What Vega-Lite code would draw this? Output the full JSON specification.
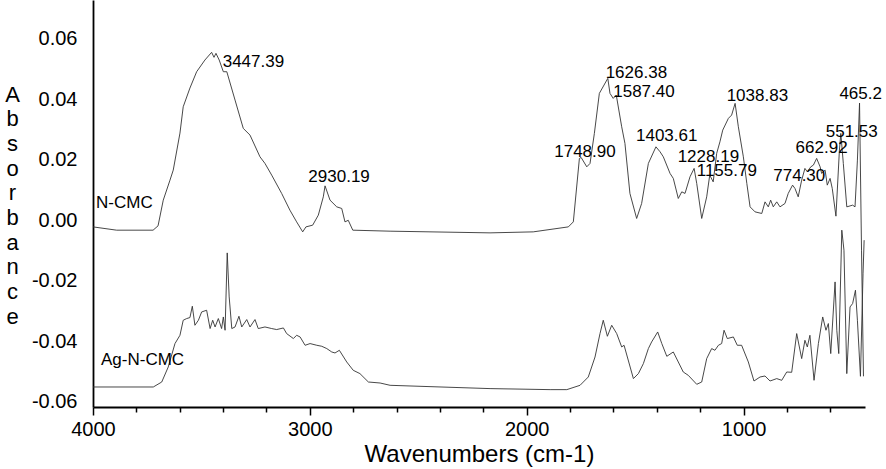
{
  "$schema": "https://vega.github.io/schema/vega-lite/v6.json",
  "width": 772,
  "height": 407,
  "autosize": {"type": "none"},
  "padding": {"left": 93, "right": 21, "top": 0, "bottom": 62},
  "background": "white",
  "config": {
    "view": {"stroke": null},
    "font": "Liberation Sans"
  },
  "datasets": {
    "spectra": [
      {"s":"N","wn":4000,"a":-0.00219},{"s":"N","wn":3891,"a":-0.00328},{"s":"N","wn":3723,"a":-0.00328},{"s":"N","wn":3700,"a":-0.00185},
      {"s":"N","wn":3676,"a":0.00666},{"s":"N","wn":3645,"a":0.01328},{"s":"N","wn":3630,"a":0.0166},{"s":"N","wn":3599,"a":0.02885},
      {"s":"N","wn":3584,"a":0.03756},{"s":"N","wn":3553,"a":0.04376},{"s":"N","wn":3522,"a":0.04916},{"s":"N","wn":3484,"a":0.05303},
      {"s":"N","wn":3453,"a":0.05558},{"s":"N","wn":3442,"a":0.05393},{"s":"N","wn":3433,"a":0.05525},{"s":"N","wn":3418,"a":0.05303},
      {"s":"N","wn":3399,"a":0.04916},{"s":"N","wn":3383,"a":0.04916},{"s":"N","wn":3345,"a":0.03978},{"s":"N","wn":3307,"a":0.03041},
      {"s":"N","wn":3276,"a":0.02819},{"s":"N","wn":3230,"a":0.021},{"s":"N","wn":3207,"a":0.01881},{"s":"N","wn":3176,"a":0.01494},
      {"s":"N","wn":3130,"a":0.00888},{"s":"N","wn":3092,"a":0.00335},{"s":"N","wn":3061,"a":-0.00053},{"s":"N","wn":3033,"a":-0.00384},
      {"s":"N","wn":3018,"a":-0.00219},{"s":"N","wn":2987,"a":-0.00162},{"s":"N","wn":2961,"a":0.00169},{"s":"N","wn":2938,"a":0.00775},
      {"s":"N","wn":2930,"a":0.01139},{"s":"N","wn":2907,"a":0.00666},{"s":"N","wn":2876,"a":0.00444},{"s":"N","wn":2853,"a":0.00391},
      {"s":"N","wn":2838,"a":-0.00053},{"s":"N","wn":2823,"a":0.0},{"s":"N","wn":2802,"a":-0.00328},{"s":"N","wn":2630,"a":-0.00361},
      {"s":"N","wn":2169,"a":-0.00417},{"s":"N","wn":1970,"a":-0.00384},{"s":"N","wn":1808,"a":-0.00219},{"s":"N","wn":1785,"a":-0.00053},
      {"s":"N","wn":1757,"a":0.02047},{"s":"N","wn":1749,"a":0.0208},{"s":"N","wn":1723,"a":0.01769},{"s":"N","wn":1708,"a":0.01881},
      {"s":"N","wn":1688,"a":0.02875},{"s":"N","wn":1665,"a":0.042},{"s":"N","wn":1626,"a":0.04697},{"s":"N","wn":1616,"a":0.042},
      {"s":"N","wn":1601,"a":0.04034},{"s":"N","wn":1587,"a":0.04144},{"s":"N","wn":1562,"a":0.03094},{"s":"N","wn":1547,"a":0.02544},
      {"s":"N","wn":1524,"a":0.00888},{"s":"N","wn":1493,"a":0.0006},{"s":"N","wn":1470,"a":0.00556},{"s":"N","wn":1439,"a":0.01881},
      {"s":"N","wn":1404,"a":0.02431},{"s":"N","wn":1385,"a":0.02266},{"s":"N","wn":1370,"a":0.021},{"s":"N","wn":1339,"a":0.0155},
      {"s":"N","wn":1324,"a":0.01385},{"s":"N","wn":1301,"a":0.00722},{"s":"N","wn":1285,"a":0.00941},{"s":"N","wn":1270,"a":0.00888},
      {"s":"N","wn":1247,"a":0.01438},{"s":"N","wn":1228,"a":0.01716},{"s":"N","wn":1216,"a":0.01219},{"s":"N","wn":1193,"a":0.0006},
      {"s":"N","wn":1170,"a":0.00775},{"s":"N","wn":1156,"a":0.01494},{"s":"N","wn":1140,"a":0.01272},{"s":"N","wn":1124,"a":0.02213},
      {"s":"N","wn":1109,"a":0.02597},{"s":"N","wn":1096,"a":0.02984},{"s":"N","wn":1070,"a":0.03372},{"s":"N","wn":1055,"a":0.03481},
      {"s":"N","wn":1039,"a":0.03869},{"s":"N","wn":1024,"a":0.03094},{"s":"N","wn":1001,"a":0.021},{"s":"N","wn":985,"a":0.01219},
      {"s":"N","wn":970,"a":0.00444},{"s":"N","wn":947,"a":0.00278},{"s":"N","wn":916,"a":0.00225},{"s":"N","wn":901,"a":0.00609},
      {"s":"N","wn":886,"a":0.00444},{"s":"N","wn":875,"a":0.00666},{"s":"N","wn":863,"a":0.00444},{"s":"N","wn":847,"a":0.00609},
      {"s":"N","wn":832,"a":0.00444},{"s":"N","wn":809,"a":0.00556},{"s":"N","wn":794,"a":0.00888},{"s":"N","wn":774,"a":0.01163},
      {"s":"N","wn":763,"a":0.01053},{"s":"N","wn":748,"a":0.00775},{"s":"N","wn":732,"a":0.01328},{"s":"N","wn":717,"a":0.01716},
      {"s":"N","wn":706,"a":0.01603},{"s":"N","wn":690,"a":0.01769},{"s":"N","wn":678,"a":0.01825},{"s":"N","wn":663,"a":0.02047},
      {"s":"N","wn":647,"a":0.01769},{"s":"N","wn":640,"a":0.0155},{"s":"N","wn":624,"a":0.0166},{"s":"N","wn":614,"a":0.01163},
      {"s":"N","wn":601,"a":0.01385},{"s":"N","wn":591,"a":0.01053},{"s":"N","wn":574,"a":0.00136},{"s":"N","wn":558,"a":0.02322},
      {"s":"N","wn":551.5,"a":0.02875},{"s":"N","wn":540,"a":0.01881},{"s":"N","wn":524,"a":0.00444},{"s":"N","wn":497,"a":0.005},
      {"s":"N","wn":486,"a":0.00444},{"s":"N","wn":475,"a":0.01991},{"s":"N","wn":465.2,"a":0.03879},{"s":"N","wn":456,"a":-0.0099},
      {"s":"N","wn":447,"a":-0.05164},

      {"s":"Ag","wn":4000,"a":-0.05518},{"s":"Ag","wn":3722,"a":-0.05518},{"s":"Ag","wn":3683,"a":-0.05353},{"s":"Ag","wn":3653,"a":-0.04856},
      {"s":"Ag","wn":3622,"a":-0.04081},{"s":"Ag","wn":3599,"a":-0.03806},{"s":"Ag","wn":3584,"a":-0.03309},{"s":"Ag","wn":3568,"a":-0.03253},
      {"s":"Ag","wn":3553,"a":-0.0322},{"s":"Ag","wn":3542,"a":-0.02845},{"s":"Ag","wn":3530,"a":-0.03475},{"s":"Ag","wn":3514,"a":-0.03309},
      {"s":"Ag","wn":3499,"a":-0.03034},{"s":"Ag","wn":3476,"a":-0.02978},{"s":"Ag","wn":3460,"a":-0.03584},{"s":"Ag","wn":3448,"a":-0.03309},
      {"s":"Ag","wn":3437,"a":-0.03531},{"s":"Ag","wn":3422,"a":-0.03253},{"s":"Ag","wn":3407,"a":-0.03584},{"s":"Ag","wn":3399,"a":-0.032},
      {"s":"Ag","wn":3391,"a":-0.0364},{"s":"Ag","wn":3381,"a":-0.0108},{"s":"Ag","wn":3372,"a":-0.02537},{"s":"Ag","wn":3360,"a":-0.03584},
      {"s":"Ag","wn":3345,"a":-0.03531},{"s":"Ag","wn":3327,"a":-0.03177},{"s":"Ag","wn":3314,"a":-0.03531},{"s":"Ag","wn":3291,"a":-0.03286},
      {"s":"Ag","wn":3276,"a":-0.03531},{"s":"Ag","wn":3253,"a":-0.03286},{"s":"Ag","wn":3238,"a":-0.03584},{"s":"Ag","wn":3207,"a":-0.03531},
      {"s":"Ag","wn":3176,"a":-0.03584},{"s":"Ag","wn":3153,"a":-0.03617},{"s":"Ag","wn":3122,"a":-0.03564},{"s":"Ag","wn":3107,"a":-0.0375},
      {"s":"Ag","wn":3076,"a":-0.03915},{"s":"Ag","wn":3061,"a":-0.03806},{"s":"Ag","wn":3045,"a":-0.03862},{"s":"Ag","wn":3022,"a":-0.04137},
      {"s":"Ag","wn":2999,"a":-0.04081},{"s":"Ag","wn":2968,"a":-0.04137},{"s":"Ag","wn":2945,"a":-0.0417},{"s":"Ag","wn":2922,"a":-0.04246},
      {"s":"Ag","wn":2899,"a":-0.04359},{"s":"Ag","wn":2884,"a":-0.04392},{"s":"Ag","wn":2864,"a":-0.04303},{"s":"Ag","wn":2830,"a":-0.0469},
      {"s":"Ag","wn":2800,"a":-0.04965},{"s":"Ag","wn":2769,"a":-0.05075},{"s":"Ag","wn":2730,"a":-0.05353},{"s":"Ag","wn":2676,"a":-0.05386},
      {"s":"Ag","wn":2630,"a":-0.05462},{"s":"Ag","wn":2492,"a":-0.05495},{"s":"Ag","wn":2169,"a":-0.05571},{"s":"Ag","wn":1892,"a":-0.05605},
      {"s":"Ag","wn":1815,"a":-0.05605},{"s":"Ag","wn":1754,"a":-0.05462},{"s":"Ag","wn":1716,"a":-0.05187},{"s":"Ag","wn":1685,"a":-0.04525},
      {"s":"Ag","wn":1662,"a":-0.0375},{"s":"Ag","wn":1647,"a":-0.03309},{"s":"Ag","wn":1628,"a":-0.03839},{"s":"Ag","wn":1608,"a":-0.03475},
      {"s":"Ag","wn":1585,"a":-0.0375},{"s":"Ag","wn":1562,"a":-0.04193},{"s":"Ag","wn":1551,"a":-0.04137},{"s":"Ag","wn":1508,"a":-0.0524},
      {"s":"Ag","wn":1485,"a":-0.05075},{"s":"Ag","wn":1462,"a":-0.04743},{"s":"Ag","wn":1439,"a":-0.04246},{"s":"Ag","wn":1424,"a":-0.04028},
      {"s":"Ag","wn":1396,"a":-0.03697},{"s":"Ag","wn":1377,"a":-0.04081},{"s":"Ag","wn":1354,"a":-0.04502},{"s":"Ag","wn":1324,"a":-0.04359},
      {"s":"Ag","wn":1301,"a":-0.0469},{"s":"Ag","wn":1278,"a":-0.05022},{"s":"Ag","wn":1255,"a":-0.05131},{"s":"Ag","wn":1216,"a":-0.05429},
      {"s":"Ag","wn":1193,"a":-0.05353},{"s":"Ag","wn":1170,"a":-0.04578},{"s":"Ag","wn":1147,"a":-0.04246},{"s":"Ag","wn":1132,"a":-0.04303},
      {"s":"Ag","wn":1116,"a":-0.04137},{"s":"Ag","wn":1101,"a":-0.04081},{"s":"Ag","wn":1090,"a":-0.0364},{"s":"Ag","wn":1075,"a":-0.03915},
      {"s":"Ag","wn":1047,"a":-0.03862},{"s":"Ag","wn":1029,"a":-0.04137},{"s":"Ag","wn":1009,"a":-0.04137},{"s":"Ag","wn":978,"a":-0.0469},
      {"s":"Ag","wn":952,"a":-0.0532},{"s":"Ag","wn":924,"a":-0.05187},{"s":"Ag","wn":901,"a":-0.05154},{"s":"Ag","wn":878,"a":-0.0532},
      {"s":"Ag","wn":847,"a":-0.0524},{"s":"Ag","wn":824,"a":-0.05297},{"s":"Ag","wn":801,"a":-0.05022},{"s":"Ag","wn":778,"a":-0.05031},
      {"s":"Ag","wn":755,"a":-0.0375},{"s":"Ag","wn":732,"a":-0.04578},{"s":"Ag","wn":717,"a":-0.03972},{"s":"Ag","wn":706,"a":-0.04193},
      {"s":"Ag","wn":694,"a":-0.03806},{"s":"Ag","wn":675,"a":-0.05297},{"s":"Ag","wn":655,"a":-0.04081},{"s":"Ag","wn":635,"a":-0.032},
      {"s":"Ag","wn":620,"a":-0.0364},{"s":"Ag","wn":609,"a":-0.03418},{"s":"Ag","wn":598,"a":-0.04412},{"s":"Ag","wn":578,"a":-0.0204},
      {"s":"Ag","wn":570,"a":-0.0364},{"s":"Ag","wn":561,"a":-0.04412},{"s":"Ag","wn":547,"a":-0.00328},{"s":"Ag","wn":537,"a":-0.0099},
      {"s":"Ag","wn":524,"a":-0.05075},{"s":"Ag","wn":509,"a":-0.02869},{"s":"Ag","wn":497,"a":-0.02756},{"s":"Ag","wn":484,"a":-0.02315},
      {"s":"Ag","wn":475,"a":-0.03309},{"s":"Ag","wn":461,"a":-0.05164},{"s":"Ag","wn":449,"a":-0.01752},{"s":"Ag","wn":444,"a":-0.00659}
    ],
    "labels": [
      {"t":"N-CMC","wn":3986,"a":0.00566},
      {"t":"Ag-N-CMC","wn":3963,"a":-0.04634},
      {"t":"3447.39","wn":3402,"a":0.05247},
      {"t":"2930.19","wn":3007,"a":0.01438},
      {"t":"1626.38","wn":1636,"a":0.04882},
      {"t":"1587.40","wn":1601,"a":0.04233},
      {"t":"1748.90","wn":1873,"a":0.02266},
      {"t":"1403.61","wn":1496,"a":0.02786},
      {"t":"1228.19","wn":1304,"a":0.021},
      {"t":"1155.79","wn":1216,"a":0.01626},
      {"t":"1038.83","wn":1078,"a":0.0412},
      {"t":"774.30","wn":863,"a":0.01471},
      {"t":"662.92","wn":760,"a":0.02378},
      {"t":"551.53","wn":621,"a":0.02928},
      {"t":"465.2","wn":558,"a":0.04167}
    ]
  },
  "layer": [
    {
      "data": {"name": "spectra"},
      "mark": {"type": "line", "stroke": "#333333", "strokeWidth": 0.9, "clip": true},
      "encoding": {
        "x": {
          "field": "wn", "type": "quantitative",
          "scale": {"domain": [4000, 440], "nice": false, "zero": false},
          "axis": {
            "values": [4000,3900,3800,3700,3600,3500,3400,3300,3200,3100,3000,2900,2800,2700,2600,2500,2400,2300,2200,2100,2000,1900,1800,1700,1600,1500,1400,1300,1200,1100,1000,900,800,700,600,500],
            "labelExpr": "(datum.value % 500 === 0 && datum.value !== 500) ? format(datum.value, 'd') : ''",
            "tickSize": {"condition": {"test": "datum.value % 500 === 0", "value": 8}, "value": 5},
            "tickColor": "black",
            "tickWidth": 1.5,
            "domainColor": "black",
            "domainWidth": 1.8,
            "grid": false,
            "labelFont": "Liberation Sans",
            "labelFontSize": 20,
            "labelColor": "black",
            "labelPadding": 4,
            "labelFlush": false,
            "labelOverlap": false,
            "title": "Wavenumbers (cm-1)",
            "titleFont": "Liberation Sans",
            "titleFontSize": 24,
            "titleFontWeight": "normal",
            "titleColor": "black",
            "titleX": 386,
            "titleY": 54,
            "titleBaseline": "alphabetic",
            "titleAlign": "center"
          }
        },
        "y": {
          "field": "a", "type": "quantitative",
          "scale": {"domain": [-0.0618, 0.0729], "nice": false, "zero": false},
          "axis": {
            "values": [-0.06,-0.04,-0.02,0,0.02,0.04,0.06],
            "labelExpr": "replace(format(datum.value, '.2f'), '\u2212', '-')",
            "ticks": false,
            "tickSize": 0,
            "grid": false,
            "domainColor": "black",
            "domainWidth": 1.8,
            "labelFont": "Liberation Sans",
            "labelFontSize": 20,
            "labelColor": "black",
            "labelPadding": 16,
            "labelFlush": false,
            "labelOverlap": false,
            "title": ["A","b","s","o","r","b","a","n","c","e"],
            "titleFont": "Liberation Sans",
            "titleFontSize": 22,
            "titleFontWeight": "normal",
            "titleColor": "black",
            "titleAngle": 0,
            "titleLineHeight": 24.7,
            "titleX": -81,
            "titleY": 94,
            "titleAlign": "center",
            "titleBaseline": "middle"
          }
        },
        "detail": {"field": "s"}
      }
    },
    {
      "data": {"name": "labels"},
      "mark": {"type": "text", "align": "left", "baseline": "middle", "font": "Liberation Sans", "fontSize": 17, "color": "black"},
      "encoding": {
        "x": {"field": "wn", "type": "quantitative"},
        "y": {"field": "a", "type": "quantitative"},
        "text": {"field": "t"}
      }
    }
  ]
}
